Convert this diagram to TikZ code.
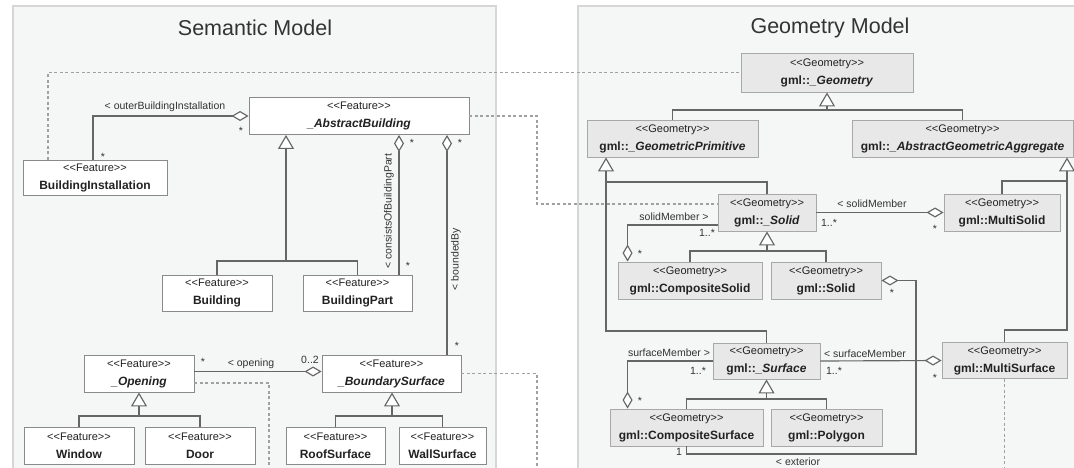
\documentclass[tikz,border=0pt]{standalone}
\usepackage{fontspec}
\setmainfont{Liberation Sans}
\usetikzlibrary{arrows.meta}
\definecolor{lncol}{HTML}{666666}
\definecolor{boxline}{HTML}{8A8A8A}
\definecolor{gboxfill}{HTML}{E8E8E8}
\definecolor{gboxline}{HTML}{A8A8A8}
\definecolor{depcol}{HTML}{A0A0A0}
\definecolor{panelbg}{HTML}{F5F6F6}
\definecolor{panelline}{HTML}{D6D6D6}
\definecolor{txtcol}{HTML}{222222}
\definecolor{lbcol}{HTML}{333333}
\newcommand\umlc[2]{{\fontsize{11}{13}\selectfont <{}<#1>{}>}\\[4pt]{\bfseries #2}}
\tikzset{
  panel/.style={fill=panelbg, draw=panelline, line width=1.5pt},
  title/.style={font=\fontsize{21.5}{24}\selectfont, text=lbcol, inner sep=0pt},
  box/.style={draw=boxline, line width=0.9pt, fill=white, inner sep=0pt, align=center,
    text=txtcol, font=\fontsize{12}{14}\selectfont, minimum height=37pt},
  gbox/.style={box, fill=gboxfill, draw=gboxline},
  conn/.style={draw=lncol, line width=1.15pt},
  gen/.style={conn, -{Triangle[open, fill=white, length=14pt, width=16pt]}},
  agg/.style={conn, -{Diamond[open, fill=white, length=17pt, width=10pt]}},
  dep/.style={draw=depcol, line width=1.6pt, dash pattern=on 3pt off 2.5pt},
  lbl/.style={font=\fontsize{10.5}{12}\selectfont, text=lbcol, inner sep=0pt},
}
\begin{document}
\begin{tikzpicture}[x=1pt,y=-1pt]
\useasboundingbox (0,0) rectangle (1074,468);
\fill[white] (0,0) rectangle (1074,468);
% panels
\draw[panel] (13,6) rectangle (496,472);
\draw[panel] (578,6) rectangle (1078,472);
\node[title] (t1) at (255,27.5) {Semantic Model};
\node[title] (t2) at (830,27.5) {Geometry Model};

% ---------- Semantic model nodes
\node[box, minimum width=220pt] (absb) at (359,116) {\umlc{Feature}{\itshape \_AbstractBuilding}};
\node[box, minimum width=144pt, minimum height=35pt] (binst) at (95,177.5) {\umlc{Feature}{BuildingInstallation}};
\node[box, minimum width=110pt, minimum height=36pt] (bldg) at (217,293) {\umlc{Feature}{Building}};
\node[box, minimum width=109pt, minimum height=36pt] (bpart) at (357.5,293) {\umlc{Feature}{BuildingPart}};
\node[box, minimum width=110pt] (open) at (139,373.5) {\umlc{Feature}{\itshape \_Opening}};
\node[box, minimum width=139pt] (bsurf) at (391.5,373.5) {\umlc{Feature}{\itshape \_BoundarySurface}};
\node[box, minimum width=110pt] (win) at (79,445.5) {\umlc{Feature}{Window}};
\node[box, minimum width=110pt] (door) at (200,445.5) {\umlc{Feature}{Door}};
\node[box, minimum width=99pt] (roof) at (335.5,445.5) {\umlc{Feature}{RoofSurface}};
\node[box, minimum width=87pt] (wall) at (442.5,445.5) {\umlc{Feature}{WallSurface}};

% ---------- Geometry model nodes
\node[gbox, minimum width=172pt, minimum height=39pt] (geom) at (827,72.5) {\umlc{Geometry}{gml::\textit{\_Geometry}}};
\node[gbox, minimum width=171pt] (prim) at (672.5,138.5) {\umlc{Geometry}{gml::\textit{\_GeometricPrimitive}}};
\node[gbox, minimum width=221pt] (aggr) at (962.5,138.5) {\umlc{Geometry}{gml::\textit{\_AbstractGeometricAggregate}}};
\node[gbox, minimum width=98pt] (solid) at (767,212.5) {\umlc{Geometry}{gml::\textit{\_Solid}}};
\node[gbox, minimum width=116pt] (msolid) at (1002,212.5) {\umlc{Geometry}{gml::MultiSolid}};
\node[gbox, minimum width=144pt] (csolid) at (690,280.5) {\umlc{Geometry}{gml::CompositeSolid}};
\node[gbox, minimum width=110pt] (gsolid) at (826,280.5) {\umlc{Geometry}{gml::Solid}};
\node[gbox, minimum width=107pt, minimum height=36pt] (surf) at (766.5,361) {\umlc{Geometry}{gml::\textit{\_Surface}}};
\node[gbox, minimum width=125pt, minimum height=36pt] (msurf) at (1004.5,360.5) {\umlc{Geometry}{gml::MultiSurface}};
\node[gbox, minimum width=153pt] (csurf) at (686.5,427.5) {\umlc{Geometry}{gml::CompositeSurface}};
\node[gbox, minimum width=111pt] (poly) at (826.5,427.5) {\umlc{Geometry}{gml::Polygon}};

% ---------- helper coordinates
\coordinate (obx) at (93,116);
\coordinate (dbx) at (48,72.5);
\coordinate (cbx) at (399,200);
\coordinate (bbx) at (447,200);
\coordinate (jb) at (286,261);
\coordinate (jo) at (139,416);
\coordinate (jbs) at (392,416);
\coordinate (dx) at (537,116);
\coordinate (od) at (269,468);
\coordinate (bd) at (537,468);
\coordinate (jg) at (827,110);
\coordinate (jp1) at (606,182);
\coordinate (jp2) at (606,331);
\coordinate (ja1) at (1067,181);
\coordinate (ja2) at (1067,330);
\coordinate (js) at (767,251);
\coordinate (jsf) at (766.5,399);
\coordinate (ex) at (916,454);
\coordinate (msd) at (1004.5,468);

% ---------- dependencies (dashed)
\draw[dep] (binst.north -| dbx) |- (geom.west);
\draw[dep] (absb.east) -- (dx) |- ([yshift=8.5pt]solid.west);
\draw[dep] ([yshift=-9.5pt]open.east) -| (od);
\draw[dep] (bsurf.east) -| (bd);
\draw[dep] (msurf.south) -- (msd);

% ---------- semantic connectors
\draw[agg] (binst.north -| obx) |- (absb.west);
\draw[agg] (bpart.north -| cbx) -- (absb.south -| cbx);
\draw[agg] (bsurf.north -| bbx) -- (absb.south -| bbx);
\draw[conn] (bldg.north) |- (jb) -| (bpart.north);
\draw[gen] (jb) -- (absb.south -| jb);
\draw[agg] ([yshift=2pt]open.east) -- ([yshift=2pt]bsurf.west);
\draw[conn] (win.north) |- (jo) -| (door.north);
\draw[gen] (jo) -- (open.south);
\draw[conn] (roof.north) |- (jbs) -| (wall.north);
\draw[gen] (jbs) -- (bsurf.south -| jbs);

% ---------- geometry connectors
\draw[conn] (prim.north) |- (jg) -| (aggr.north);
\draw[gen] (jg) -- (geom.south);
\draw[conn] (solid.north) |- (jp1);
\draw[conn] (surf.north) |- (jp2) -- (jp1);
\draw[gen] (jp1) -- (prim.south -| jp1);
\draw[conn] (msolid.north) |- (ja1);
\draw[conn] (msurf.north) |- (ja2) -- (ja1);
\draw[gen] (ja1) -- (aggr.south -| ja1);
\draw[agg] (solid.east) -- (msolid.west);
\draw[agg] ([yshift=-12.5pt]solid.west) -| ([xshift=10pt]csolid.north west);
\draw[conn] (csolid.north) |- (js) -| (gsolid.north);
\draw[gen] (js) -- (solid.south);
\draw[agg] (csurf.south) |- (ex) |- (gsolid.east);
\draw[agg] (surf.west) -| ([xshift=18pt]csurf.north west);
\draw[agg] (surf.east) -- (msurf.west);
\draw[conn] (csurf.north) |- (jsf) -| (poly.north);
\draw[gen] (jsf) -- (surf.south);

% ---------- labels
\node[lbl] (l1) at (165,107) {< outerBuildingInstallation};
\node[lbl] (l2) at (241,131) {*};
\node[lbl] (l3) at (103,157) {*};
\node[lbl, rotate=90] (l4) at (389,211) {< consistsOfBuildingPart};
\node[lbl] (l5) at (412,143) {*};
\node[lbl] (l6) at (408,266) {*};
\node[lbl, rotate=90] (l7) at (456,259) {< boundedBy};
\node[lbl] (l8) at (460,143) {*};
\node[lbl] (l9) at (457,346) {*};
\node[lbl] (l10) at (251,364) {< opening};
\node[lbl] (l11) at (203,362) {*};
\node[lbl] (l12) at (310,360) {0..2};
\node[lbl] (r1) at (872,204) {< solidMember};
\node[lbl] (r2) at (829,223) {1..*};
\node[lbl] (r3) at (935,229) {*};
\node[lbl] (r4) at (674,217) {solidMember >};
\node[lbl] (r5) at (707,233) {1..*};
\node[lbl] (r6) at (640,254) {*};
\node[lbl] (r7) at (892,293) {*};
\node[lbl] (r8) at (669,353) {surfaceMember >};
\node[lbl] (r9) at (698,371) {1..*};
\node[lbl] (r10) at (640,401) {*};
\node[lbl] (r11) at (865,354) {< surfaceMember};
\node[lbl] (r12) at (834,371) {1..*};
\node[lbl] (r13) at (935,378) {*};
\node[lbl] (r14) at (679,452) {1};
\node[lbl] (r15) at (798,461.5) {< exterior};
\end{tikzpicture}
\end{document}
